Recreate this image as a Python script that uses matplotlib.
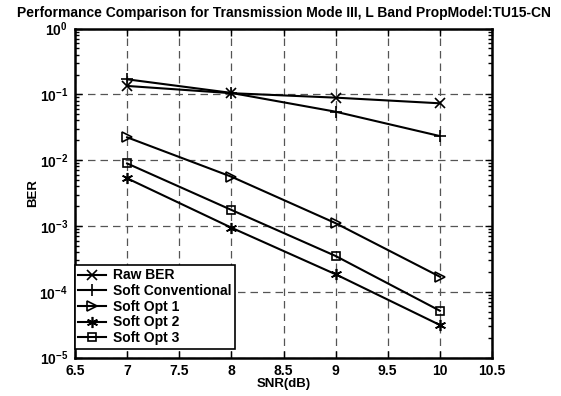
import math

import matplotlib

matplotlib.use("Agg")
import matplotlib.pyplot as plt
from matplotlib.ticker import FuncFormatter, LogLocator, MultipleLocator

plt.rcParams["font.family"] = ["Liberation Sans", "DejaVu Sans"]
plt.rcParams["font.weight"] = "bold"
plt.rcParams["mathtext.fontset"] = "custom"
plt.rcParams["mathtext.rm"] = "Liberation Sans:bold"
plt.rcParams["mathtext.bf"] = "Liberation Sans:bold"
plt.rcParams["mathtext.default"] = "bf"

snr = [7, 8, 9, 10]
raw_ber = [0.134, 0.104, 0.089, 0.073]
soft_conv = [0.169, 0.105, 0.0544, 0.0232]
soft_opt1 = [0.0222, 0.0056, 0.0011, 1.69e-4]
soft_opt2 = [0.00529, 9.4e-4, 1.84e-4, 3.12e-5]
soft_opt3 = [0.0089, 0.00175, 3.49e-4, 5.14e-5]

series = [
    ("Raw BER", raw_ber, "x", "k", 7),
    ("Soft Conventional", soft_conv, "+", "k", 8),
    ("Soft Opt 1", soft_opt1, ">", "none", 7),
    ("Soft Opt 2", soft_opt2, (6, 2, 0), "k", 8),
    ("Soft Opt 3", soft_opt3, "s", "none", 5.5),
]

fig = plt.figure(figsize=(5.61, 3.96), dpi=100)
ax = fig.add_axes([0.1337, 0.0972, 0.7433, 0.8308])

for label, vals, marker, face, size in series:
    ax.plot(snr, vals, color="k", linewidth=1.5, marker=marker,
            markersize=size, markerfacecolor=face,
            markeredgecolor="k", markeredgewidth=1.2, label=label)

ax.set_yscale("log")
ax.set_xlim(6.5, 10.5)
ax.set_ylim(1e-5, 1)
ax.xaxis.set_major_locator(MultipleLocator(0.5))
ax.xaxis.set_major_formatter(FuncFormatter(lambda v, _: f"{v:g}"))
ax.yaxis.set_major_locator(LogLocator(base=10, numticks=10))
ax.yaxis.set_minor_locator(LogLocator(base=10, subs=range(2, 10), numticks=10))
ax.yaxis.set_major_formatter(FuncFormatter(lambda v, _: r"$10^{%d}$" % round(math.log10(v))))

ax.tick_params(which="both", direction="in", top=True, right=True, labelsize=10)
ax.tick_params(which="major", length=5, width=1)
ax.tick_params(which="minor", length=3, width=1)
ax.tick_params(axis="x", pad=5)
ax.tick_params(axis="y", pad=5)
for s in ax.spines.values():
    s.set_linewidth(1.8)

ax.grid(True, which="major", color="#555555", linestyle=(0, (6, 4)), linewidth=0.9)

ax.set_title("Performance Comparison for Transmission Mode III, L Band PropModel:TU15-CN",
             fontsize=10, fontweight="bold", pad=8)
ax.set_xlabel("SNR(dB)", fontsize=9.5, fontweight="bold", labelpad=0)
ax.set_ylabel("BER", fontsize=9.5, fontweight="bold", labelpad=0)

leg = ax.legend(loc="lower left", bbox_to_anchor=(0.0, 0.027), fontsize=10,
                frameon=True, fancybox=False, framealpha=1, edgecolor="k",
                handlelength=2.0, labelspacing=0.12, borderpad=0.25,
                handletextpad=0.5, borderaxespad=0)
leg.get_frame().set_linewidth(1.2)

fig.savefig("out.png", dpi=100)
